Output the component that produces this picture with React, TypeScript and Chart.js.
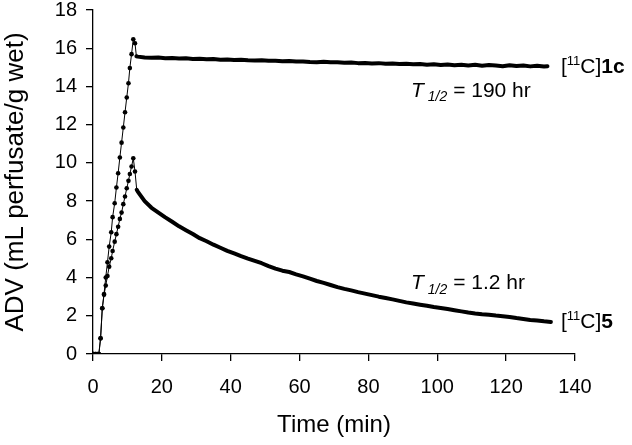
import React, { useEffect, useRef } from "react";
import { Chart, registerables } from "chart.js";
Chart.register(...registerables);

// ---- data ----
const time1c = [
  0.2, 0.7, 1.2, 1.7, 2.2, 2.7, 3.2, 3.7, 4.2, 4.7, 5.3, 5.7, 6.3, 6.8, 7.3, 7.8, 8.3, 8.8, 9.3, 9.8,
  10.3, 10.7, 11.2, 11.7, 12.2, 12.6,
  13, 15, 17, 19, 21, 23, 25, 27, 29, 31, 33, 35, 37, 39, 41, 43, 45, 47, 49, 51,
  53, 55, 57, 59, 61, 63, 65, 67, 69, 71, 73, 75, 77, 79, 81, 83, 85, 87, 89, 91,
  93, 95, 97, 99, 101, 103, 105, 107, 109, 111, 113, 115, 117, 119, 121, 123, 125, 127, 129, 131, 132,
];
const adv1c = [
  0, 0, 0, 0, 0.82, 2.39, 3.14, 4.0, 4.8, 5.62, 6.37, 7.16, 7.89, 8.71, 9.46, 10.28, 11.06, 11.85, 12.65, 13.42,
  14.17, 14.96, 15.69, 16.47, 16.26, 15.58,
  15.56, 15.52, 15.5, 15.51, 15.48, 15.49, 15.46, 15.47, 15.44, 15.45,
  15.42, 15.43, 15.4, 15.41, 15.38, 15.4, 15.37, 15.36, 15.37, 15.34,
  15.35, 15.32, 15.33, 15.3, 15.31, 15.28, 15.27, 15.29, 15.26, 15.27,
  15.24, 15.25, 15.22, 15.23, 15.2, 15.22, 15.19, 15.2, 15.17, 15.19,
  15.16, 15.17, 15.14, 15.16, 15.12, 15.15, 15.11, 15.13, 15.1, 15.13,
  15.08, 15.12, 15.09, 15.06, 15.11, 15.07, 15.1, 15.05, 15.08, 15.04, 15.06,
];
const time5 = [
  0.2, 0.7, 1.2, 1.7, 2.2, 2.7, 3.2, 3.7, 4.2, 4.7, 5.3, 5.7, 6.3, 6.8, 7.3, 7.8, 8.3, 8.8, 9.3, 9.8,
  10.3, 10.7, 11.2, 11.7, 12.2, 12.7,
  13, 15, 17, 19, 21, 23, 25, 27, 29, 31, 33, 35, 37, 39, 41, 43, 45, 47, 49, 51,
  53, 55, 57, 59, 61, 63, 65, 67, 69, 71, 73, 75, 77, 79, 81, 83, 85, 87, 89, 91,
  93, 95, 97, 99, 101, 103, 105, 107, 109, 111, 113, 115, 117, 119, 121, 123, 125, 127, 129, 131, 133,
];
const adv5 = [
  0, 0, 0, 0, 0.82, 2.39, 3.1, 3.58, 4.08, 4.57, 5.01, 5.39, 5.88, 6.27, 6.66, 7.07, 7.4, 7.84, 8.24, 8.67,
  9.06, 9.42, 9.81, 10.24, 9.55, 8.59,
  8.5, 8.0, 7.65, 7.4, 7.15, 6.92, 6.68, 6.48, 6.28, 6.06,
  5.9, 5.72, 5.56, 5.4, 5.26, 5.12, 4.99, 4.87, 4.75, 4.6,
  4.47, 4.36, 4.29, 4.17, 4.06, 3.94, 3.82, 3.72, 3.61, 3.5,
  3.41, 3.33, 3.24, 3.16, 3.08, 3.0, 2.93, 2.86, 2.78, 2.7,
  2.64, 2.58, 2.52, 2.46, 2.41, 2.35, 2.29, 2.23, 2.17, 2.12,
  2.08, 2.05, 2.01, 1.98, 1.94, 1.88, 1.83, 1.78, 1.75, 1.71, 1.68,
];
const xTicks = [0, 20, 40, 60, 80, 100, 120, 140];
const yTicks = [0, 2, 4, 6, 8, 10, 12, 14, 16, 18];

const FONT = '"Liberation Sans", Arial, Helvetica, sans-serif';

type Part = { text: string; size: number; bold?: boolean; italic?: boolean; dy?: number };
type Note = { x: number; y: number; parts: Part[] };

const notes: Note[] = [
  {
    x: 135.9, y: 14.69,
    parts: [
      { text: "[", size: 21 },
      { text: "11", size: 13, dy: -8 },
      { text: "C]", size: 21 },
      { text: "1c", size: 21, bold: true },
    ],
  },
  {
    x: 92.4, y: 13.47,
    parts: [
      { text: "T", size: 21, italic: true },
      { text: " 1/2", size: 14, italic: true, dy: 4.5 },
      { text: " = 190 hr", size: 21 },
    ],
  },
  {
    x: 92.4, y: 3.39,
    parts: [
      { text: "T", size: 21, italic: true },
      { text: " 1/2", size: 14, italic: true, dy: 4.5 },
      { text: " = 1.2 hr", size: 21 },
    ],
  },
  {
    x: 135.9, y: 1.35,
    parts: [
      { text: "[", size: 21 },
      { text: "11", size: 13, dy: -8 },
      { text: "C]", size: 21 },
      { text: "5", size: 21, bold: true },
    ],
  },
];

const notesPlugin = {
  id: "notes",
  afterDatasetsDraw(chart: any) {
    const { ctx, scales } = chart;
    ctx.save();
    ctx.fillStyle = "#000";
    ctx.textBaseline = "alphabetic";
    ctx.textAlign = "left";
    for (const n of notes) {
      let px = scales.x.getPixelForValue(n.x);
      const py = scales.y.getPixelForValue(n.y);
      for (const p of n.parts) {
        ctx.font = `${p.italic ? "italic " : ""}${p.bold ? "bold " : ""}${p.size}px ${FONT}`;
        ctx.fillText(p.text, px, py + (p.dy || 0));
        px += ctx.measureText(p.text).width;
      }
    }
    ctx.restore();
  },
};

function toPoints(xs: number[], ys: number[]) {
  return xs.map((x, i) => ({ x, y: ys[i] }));
}

export default function App() {
  const ref = useRef<HTMLCanvasElement | null>(null);
  useEffect(() => {
    if (!ref.current) return;
    const riseRadius = (c: any) => (c.raw && c.raw.x < 12.55 ? 2.3 : 0);
    const segWidth = (c: any) => (c.p0.parsed.x >= 12.55 ? 4 : 1);
    const ds = (data: any[]) => ({
      data,
      borderColor: "#000",
      backgroundColor: "#000",
      pointBackgroundColor: "#000",
      pointBorderColor: "#000",
      pointBorderWidth: 0,
      pointRadius: riseRadius,
      borderWidth: 1,
      borderJoinStyle: "round" as const,
      borderCapStyle: "round" as const,
      segment: { borderWidth: segWidth },
      tension: 0,
      fill: false,
    });
    const chart = new Chart(ref.current, {
      type: "line",
      data: {
        datasets: [ds(toPoints(time1c, adv1c)), ds(toPoints(time5, adv5))],
      },
      options: {
        responsive: false,
        animation: false,
        parsing: false as any,
        layout: { padding: { top: 10, right: 57, left: 0, bottom: 0 } },
        plugins: { legend: { display: false }, tooltip: { enabled: false } },
        scales: {
          x: {
            type: "linear",
            min: 0,
            max: 140,
            afterFit: (s: any) => { s.height = 91; s.paddingLeft = 0; s.paddingRight = 0; },
            afterBuildTicks: (s: any) => { s.ticks = xTicks.map((v) => ({ value: v })); },
            ticks: { font: { family: FONT, size: 20 }, color: "#000", padding: 14, maxRotation: 0 },
            grid: { display: true, drawOnChartArea: false, drawTicks: true, tickLength: 7, color: "#000", lineWidth: 1.3 },
            border: { display: true, color: "#000", width: 1.3 },
            title: { display: true, text: "Time (min)", color: "#000", font: { family: FONT, size: 24 }, padding: { top: 0, bottom: 5 } },
          },
          y: {
            type: "linear",
            min: 0,
            max: 18,
            afterFit: (s: any) => { s.width = 93; s.paddingTop = 0; s.paddingBottom = 0; },
            afterBuildTicks: (s: any) => { s.ticks = yTicks.map((v) => ({ value: v })); },
            ticks: { font: { family: FONT, size: 20 }, color: "#000", padding: 9 },
            grid: { display: true, drawOnChartArea: false, drawTicks: true, tickLength: 7, color: "#000", lineWidth: 1.3 },
            border: { display: true, color: "#000", width: 1.3 },
            title: { display: true, text: "ADV (mL perfusate/g wet)", color: "#000", font: { family: FONT, size: 26 }, padding: { top: 0, bottom: 0 } },
          },
        },
      },
      plugins: [notesPlugin],
    });
    return () => chart.destroy();
  }, []);
  return (
    <div style={{ position: "fixed", left: 0, top: 0, width: 632, height: 445, background: "#fff" }}>
      <canvas ref={ref} width={632} height={445} style={{ width: 632, height: 445, display: "block" }} />
    </div>
  );
}
